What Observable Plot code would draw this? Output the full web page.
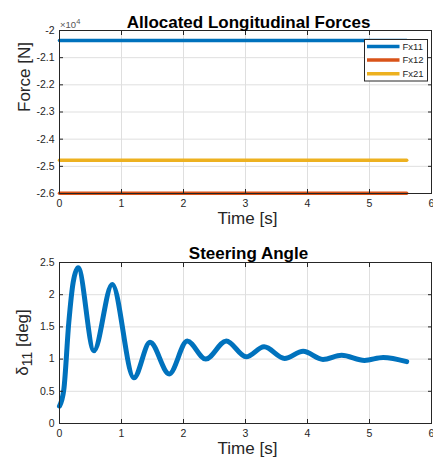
<!DOCTYPE html>
<html>
<head>
<meta charset="utf-8">
<script src="https://cdn.jsdelivr.net/npm/d3@7"></script>
<script src="https://cdn.jsdelivr.net/npm/@observablehq/plot@0.6"></script>
<style>
  body { margin: 0; background: #fff; }
  #wrap { position: relative; width: 433px; height: 463px; font-family: "Liberation Sans", Arial, sans-serif; }
  #wrap svg { position: absolute; left: 0; overflow: visible; }
</style>
</head>
<body>
<div id="wrap"></div>
<script>
// ---- data ----
const seriesNames = ["Fx11", "Fx12", "Fx21"];
const seriesColors = ["#0072BD", "#D95319", "#EDB120"];
const seriesValues = [-20370, -25995, -24780];
const forceTime = [0, 5.6];

const steerTime  = [0, 0.07, 0.15, 0.22, 0.30, 0.555, 0.85, 1.2, 1.46, 1.77, 2.06, 2.36, 2.69, 3.01, 3.30, 3.63, 3.93, 4.25, 4.55, 4.92, 5.22, 5.6];
const steerAngle = [0.27, 0.53, 1.57, 2.19, 2.42, 1.13, 2.16, 0.71, 1.26, 0.77, 1.28, 1.0, 1.28, 1.035, 1.19, 1.01, 1.12, 0.995, 1.06, 0.98, 1.025, 0.96];

const xTicks = [0, 1, 2, 3, 4, 5, 6];
const forceTicks = [-26000, -25000, -24000, -23000, -22000, -21000, -20000];
const angleTicks = [0, 0.5, 1, 1.5, 2, 2.5];

const forceRows = seriesNames.flatMap((s, i) => forceTime.map(t => ({t, v: seriesValues[i], series: s})));
const steerRows = steerTime.map((t, i) => ({t, v: steerAngle[i]}));

const FONT = "'Liberation Sans', Arial, sans-serif";
const INK = "#262626";
const GRID = "#dfdfdf";

function gridMarks(yTicks) {
  return [
    Plot.gridX(xTicks, {stroke: GRID, strokeOpacity: 1}),
    Plot.gridY(yTicks, {stroke: GRID, strokeOpacity: 1}),
  ];
}
function axisMarks(yTicks, yFmt) {
  return [
    Plot.frame({stroke: INK, strokeWidth: 1}),
    Plot.axisX(xTicks, {anchor: "bottom", tickSize: -4, tickFormat: () => "", label: null, stroke: INK}),
    Plot.axisX(xTicks, {anchor: "top", tickSize: -4, tickFormat: () => "", label: null, stroke: INK}),
    Plot.axisY(yTicks, {anchor: "left", tickSize: -4, tickFormat: () => "", label: null, stroke: INK}),
    Plot.axisY(yTicks, {anchor: "right", tickSize: -4, tickFormat: () => "", label: null, stroke: INK}),
    Plot.axisX(xTicks, {anchor: "bottom", tickSize: 0, tickPadding: 6, label: null, fontSize: 10.5, fill: INK}),
    Plot.axisY(yTicks, {anchor: "left", tickSize: 0, tickPadding: 5, label: null, fontSize: 10.5, fill: INK, tickFormat: yFmt}),
  ];
}

// ---- top chart ----
const chartTop = Plot.plot({
  width: 433, height: 231,
  marginTop: 30, marginBottom: 38, marginLeft: 59, marginRight: 2,
  style: {fontFamily: FONT, background: "transparent"},
  x: {domain: [0, 6]},
  y: {domain: [-26000, -20000]},
  color: {domain: seriesNames, range: seriesColors},
  marks: [
    ...gridMarks(forceTicks),
    Plot.line(forceRows, {x: "t", y: "v", z: "series", stroke: "series", strokeWidth: 3.5}),
    ...axisMarks(forceTicks, d => String(d / 1e4)),
    Plot.text(["Allocated Longitudinal Forces"], {frameAnchor: "top", dy: -14.5, dx: 3, fontSize: 17, fontWeight: "bold", fill: "#000"}),
    Plot.text(["Time [s]"], {frameAnchor: "bottom", dy: 30.5, dx: 2, fontSize: 17, fill: INK}),
    Plot.text(["Force [N]"], {frameAnchor: "left", dx: -35, rotate: -90, fontSize: 17, fill: INK}),
  ]
});
chartTop.style.top = "0px";

// ---- bottom chart ----
const chartBottom = Plot.plot({
  width: 433, height: 232,
  marginTop: 31, marginBottom: 40, marginLeft: 59, marginRight: 2,
  style: {fontFamily: FONT, background: "transparent"},
  x: {domain: [0, 6]},
  y: {domain: [0, 2.5]},
  marks: [
    ...gridMarks(angleTicks),
    Plot.line(steerRows, {x: "t", y: "v", stroke: seriesColors[0], strokeWidth: 5, curve: "monotone-x"}),
    ...axisMarks(angleTicks, d => String(d)),
    Plot.text(["Steering Angle"], {frameAnchor: "top", dy: -16, dx: 3, fontSize: 17, fontWeight: "bold", fill: "#000"}),
    Plot.text(["Time [s]"], {frameAnchor: "bottom", dy: 30, dx: 2, fontSize: 17, fill: INK}),
  ]
});
chartBottom.style.top = "231px";

const wrap = document.getElementById("wrap");
wrap.appendChild(chartTop);
wrap.appendChild(chartBottom);

// exponent label (top chart)
const st = d3.select(chartTop);
const ex = st.append("text").attr("x", 60).attr("y", 27.5).attr("text-anchor", "start")
  .attr("fill", "#555").attr("font-size", 9.5).attr("font-family", FONT);
ex.append("tspan").text("×10");
ex.append("tspan").attr("dy", -4).attr("font-size", 7.5).text("4");

// legend (top chart)
const lg = st.append("g");
lg.append("rect").attr("x", 364.5).attr("y", 39.5).attr("width", 63).attr("height", 41.5)
  .attr("fill", "#fff").attr("stroke", INK).attr("stroke-width", 1);
seriesNames.forEach((s, i) => {
  const y = 46.5 + i * 13.6;
  lg.append("line").attr("x1", 367).attr("x2", 399.5).attr("y1", y).attr("y2", y)
    .attr("stroke", seriesColors[i]).attr("stroke-width", 3.5);
  lg.append("text").attr("x", 402.5).attr("y", y).attr("dy", "0.35em").attr("text-anchor", "start")
    .attr("font-size", 9.5).attr("font-family", FONT).attr("fill", INK).text(s);
});

// y label (bottom chart) with subscript
const sb = d3.select(chartBottom);
const yl = sb.append("text")
  .attr("transform", `translate(28,${31 + (232 - 31 - 40) / 2}) rotate(-90)`)
  .attr("text-anchor", "middle").attr("font-family", FONT).attr("font-size", 17).attr("fill", INK);
yl.append("tspan").text("δ");
yl.append("tspan").attr("dy", 4).attr("font-size", 14).text("11");
yl.append("tspan").attr("dy", -4).text(" [deg]");
</script>
</body>
</html>
